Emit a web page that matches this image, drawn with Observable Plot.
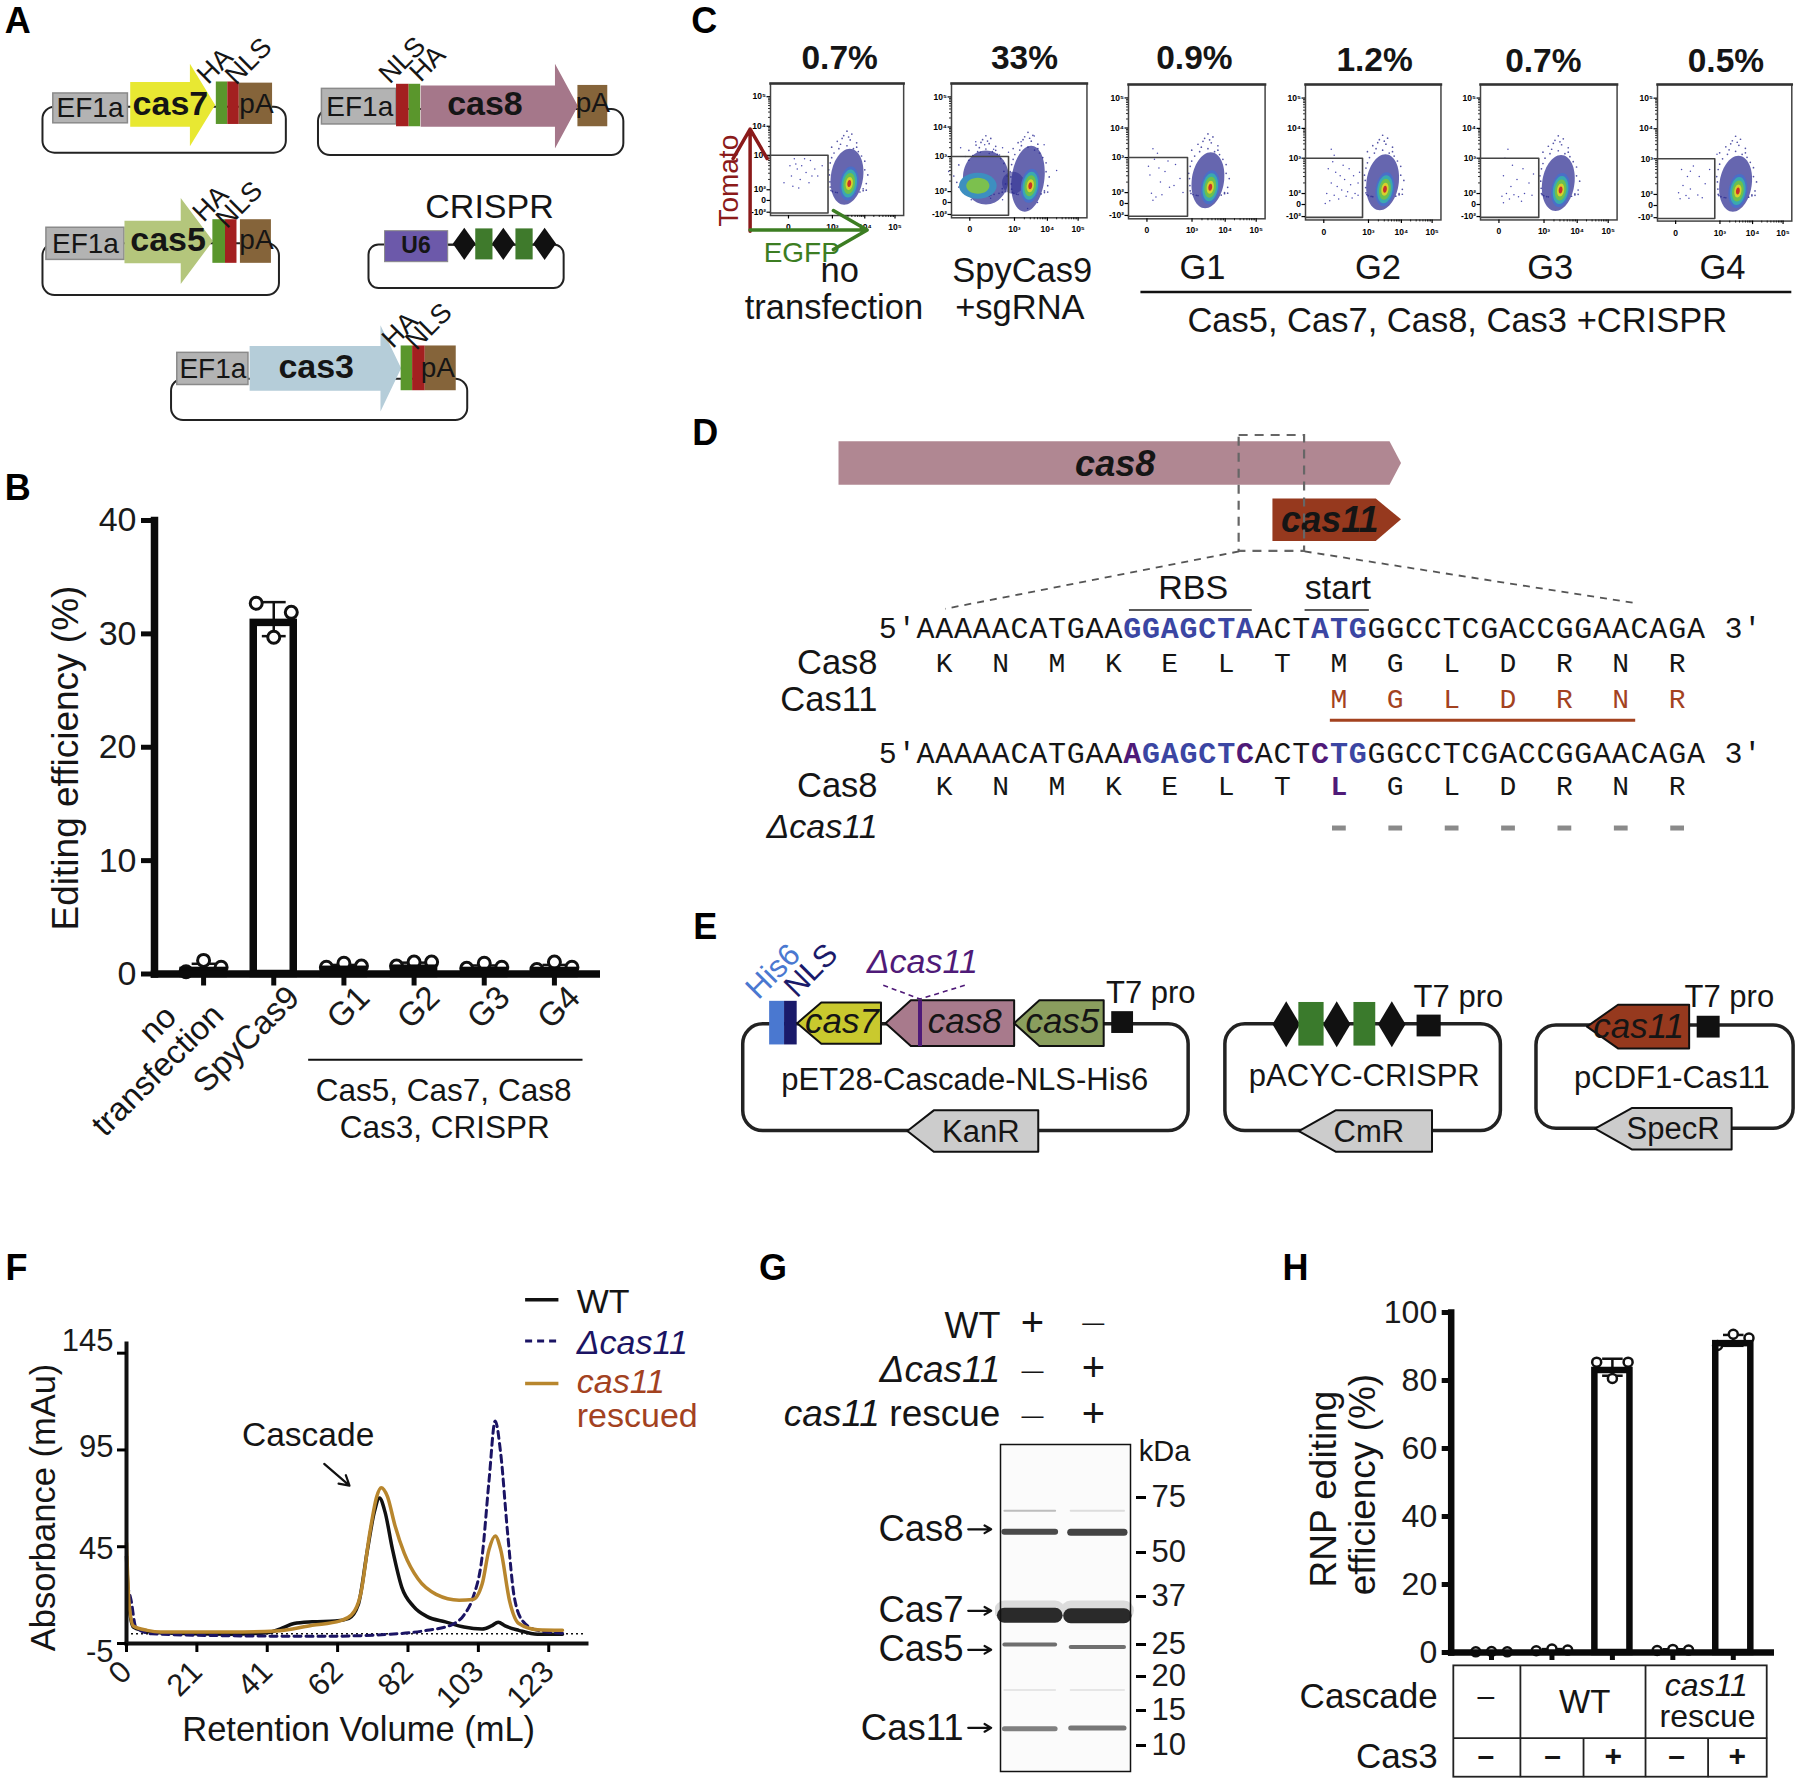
<!DOCTYPE html>
<html><head><meta charset="utf-8">
<script src="https://cdn.jsdelivr.net/npm/d3@7"></script>
<script src="https://cdn.jsdelivr.net/npm/@observablehq/plot@0.6"></script>
<style>html,body{margin:0;padding:0;background:#fff}#page{position:relative;width:1800px;height:1779px;overflow:hidden;background:#fff}</style>
</head><body><div id="page"></div>
<script>
// ---------- Panel B values ----------
const bCategories = ["no transfection","SpyCas9","G1","G2","G3","G4"];
const bTickLabels = ["","SpyCas9","G1","G2","G3","G4"];
const bMeans = [0.6,31.3,0.7,0.8,0.6,0.6];
const bReplicates = [[0.2,1.2,0.6],[32.7,29.7,31.9],[0.6,0.95,0.7],[0.7,1.05,1.05],[0.5,0.95,0.6],[0.4,1.05,0.6]];
const bErrors = [0.3,1.5,0.1,0.2,0.15,0.2];
// ---------- Panel H values ----------
const hMeans = [0.3,0.8,83.9,0.8,91.8];
const hReplicates = [[0.2,0.3,0.2],[0.5,1.0,0.7],[85.4,80.6,85.4],[0.6,0.9,0.7],[90.3,93.6,92.5]];
const hErrors = [0.1,0.2,2.5,0.15,1.6];
// ---------- Panel F values: retention volume (mL), absorbance (mAu) ----------
const fWT = [[0,40],[0.7,15],[2,3.5],[4.7,1.8],[10,0.5],[30,-0.2],[40.8,0.5],[44.8,2.6],[48.8,5.3],[54.1,6.2],[60.8,6.6],[64.8,8],[67.5,15],[70.2,43.5],[72.2,63],[73.7,70.2],[75.3,63],[77.5,43.5],[80.2,24],[83.6,14.2],[87.6,8.9],[92.9,6.2],[98.3,3.5],[103.6,2.5],[106.3,4.1],[108.3,6],[110.3,4.1],[114.3,1.8],[119.7,-0.2],[127,-0.2]];
const fDelta = [[0,25.7],[1.3,17.7],[2.7,3.5],[7.4,0],[30,-1],[56.8,-1.3],[76.9,-0.2],[87.6,1.8],[94.9,4.8],[98.3,9.7],[100.9,18.6],[103.6,40],[105.6,79],[107.4,110],[109,93.3],[111,52.4],[113,18.6],[115.6,6.2],[119.7,1.8],[127,0.3]];
const fRescued = [[0,47],[0.7,16.9],[2,4],[6,1.8],[10,0.9],[30,0.9],[43.5,1.4],[54.1,4.4],[62.2,6.7],[65.5,9.7],[68.2,20.4],[70.9,52.4],[72.9,71],[74.2,75.5],[76,71],[78.2,56],[80.9,41.7],[84.9,28.4],[90.2,20.4],[96.9,17.4],[100.9,17.7],[103.6,25.7],[105.6,43.5],[107.4,50.6],[109,43.5],[111.6,16.9],[114.3,5.3],[119.7,2.1],[127,1.8]];
const fXTicks = [0,20.5,41,61.5,82,102.5,123];
const fXLabels = ["0","21","41","62","82","103","123"];
const fYTicks = [-5,45,95,145];
// ---------- Panel G values ----------
const gMarkers = [75,50,37,25,20,15,10];
const gBands = [
 {kda:69,lane:0,shade:"#bdbdbd",w:2},{kda:69,lane:1,shade:"#dddddd",w:2},
 {kda:59.4,lane:0,shade:"#4a4a4a",w:6},{kda:59.2,lane:1,shade:"#434343",w:7},
 {kda:33.5,lane:0,shade:"#dcdcdc",w:20},{kda:33.5,lane:1,shade:"#dcdcdc",w:20},
 {kda:32.3,lane:0,shade:"#2a2a2a",w:15},{kda:32.2,lane:1,shade:"#2a2a2a",w:15},
 {kda:25,lane:0,shade:"#6e6e6e",w:4},{kda:24.6,lane:1,shade:"#707070",w:4},
 {kda:18,lane:0,shade:"#e6e6e6",w:2},{kda:18,lane:1,shade:"#e6e6e6",w:2},
 {kda:12.4,lane:0,shade:"#808080",w:5},{kda:12.5,lane:1,shade:"#777777",w:5}];
// ---------- Panel C values ----------
const cPercents = ["0.7%","33%","0.9%","1.2%","0.7%","0.5%"];
const cGateRight = [2.7,2.6,2.7,2.6,2.65,2.65];
const cCentres = [[3.52,2.18],[3.48,2.17],[3.55,2.15],[3.5,2.12],[3.5,2.1],[3.55,2.1]];
const cHalo = [[-.5,.9],[-.3,1.1],[-.1,1.3],[.1,1.15],[.3,.9],[.45,.6],[.55,.2],[-.6,.4],[-.65,.05],[-.6,-.3],[.6,-.2],[.5,-.55],[-.45,-.7],[-.3,-.9],[0,-1.1],[.25,-1],[.4,-.8],[-.2,1],[0,.95],[.2,.85],[-.4,.7],[.55,.45],[.65,.05],[-.7,.2],[-.55,-.5],[.1,-1.3],[-.1,-1.4],[0,1.45],[.05,1.25],[-.25,.85],[.35,.75],[-.5,.55],[.5,-.35],[.6,-.45],[-.35,-.85],[.15,-1.15],[.3,1.05],[-.15,1.2],[.15,1.35],[-.62,-.15]];
const cSparse = [
 [[.4,2.9],[.6,2.6],[.2,2.4],[-.1,2.2],[.9,2.7],[1.2,2.5],[.8,2.3],[1.5,2.85],[1.8,2.6],[1.4,2.2],[.1,2.7],[1.1,2.9],[.3,2.1],[2,2.4],[.7,2.05],[1.6,2.4],[2.3,2.7],[.5,2.75]],
 [[-.2,3.3],[.4,3.5],[1,3.4],[1.6,3.25],[2.2,3.3],[2.6,3.15],[3.2,3.5],[3.6,3.7],[3.9,3.4],[.7,3.15],[-.1,3],[1.3,3.1],[2,3.05],[.1,.5],[.6,1],[1.4,.8],[2.2,.5],[3.4,-.5],[3.7,0],[4.3,2.6]],
 [[.4,3.3],[.7,3.15],[.5,2.95],[1.2,2.6],[.2,2.5],[1.9,2.8],[.9,2.3],[1.5,2.15],[.3,1.9],[.6,1.2],[1,1.6],[2.2,2.4],[1.8,2.2],[.1,2.75],[2.4,2],[.8,2.7],[1.4,2.9],[.4,.6]],
 [[.5,3.3],[.7,3.1],[.3,2.7],[.8,2.6],[1.1,2.5],[1.4,2.4],[1.7,2.7],[2,2.5],[2.3,2.3],[.9,2.2],[.5,2.3],[1.2,2.1],[1.6,2.05],[2.1,2],[.2,2],[.7,1.7],[1.5,1.5],[2.3,1.7],[.4,.7],[1,1],[1.9,1.2],[.1,.2],[1.3,2.8],[1.8,2.25],[.6,2.9],[2.4,2.6]],
 [[.6,3.3],[.4,3],[.9,2.8],[.3,2.5],[1.2,2.4],[.8,2.2],[1.6,2.7],[2,2.3],[.5,2],[1,1.8],[1.7,2],[.2,1.5],[1.3,1.4],[2.2,1.7],[.7,1],[2.3,2.55],[.3,.3],[1.5,.6]],
 [[.4,2.7],[.8,2.5],[1.2,2.8],[.5,2.25],[1.6,2.5],[1,2.15],[.2,2.05],[2,2.3],[1.5,1.9],[.7,1.8],[2.3,2.7],[2.8,3.15],[1.8,1.4],[.3,1.2],[1,2.65],[.9,1.3]]];
const cLeftCore = [.54,2.17];
const cLeftCloud = [1.08,2.4];
const cBridge = [2.9,2.25];
const cMinorOffsets = [.3,.48,.6,.7,.78,.85,.9,.95];
// ---------- Panel D sequences ----------
const seqWT = "5'AAAAACATGAAGGAGCTAACTATGGGCCTCGACCGGAACAGA 3'";
const seqMut = "5'AAAAACATGAAAGAGCTCACTCTGGGCCTCGACCGGAACAGA 3'";
const aaCas8 = [..."KNMKELTMGLDRNR"];
const aaCas11 = [..."MGLDRNR"];
const aaMut = [..."KNMKELTLGLDRNR"];

const P = 1800/1568;
const page = document.getElementById("page");
const SANS = "Liberation Sans, Arial, sans-serif";
function place(svg,left,top){svg.style.position="absolute";svg.style.left=left+"px";svg.style.top=top+"px";svg.style.background="transparent";svg.style.fontFamily=SANS;svg.style.maxWidth="none";page.appendChild(svg);return svg;}
const xy = {x:d=>d[0],y:d=>d[1]};

// ---------- bar charts (B, H): the border lies inside the bar's height ----------
function barChart(o){
 const bars = o.means.map((v,i)=>({i,v}));
 const dots = o.reps.flatMap((r,i)=>r.map((v,k)=>({x:i+[-1,0,1][k]*o.spread,v})));
 const errs = o.means.map((v,i)=>({i,lo:v-o.errs[i],hi:v+o.errs[i]}));
 const ticks = o.means.map((_,i)=>i);
 return Plot.plot({width:o.width,height:o.height,marginLeft:o.ml,marginRight:0,marginTop:o.mt,marginBottom:o.mb,
  x:{domain:[-.5,o.means.length-.5],range:o.xr,axis:null},y:{domain:o.yd,axis:null},
  marks:[
   Plot.rect(bars,{x1:d=>d.i-o.hw,x2:d=>d.i+o.hw,y1:()=>0,y2:"v",insetTop:o.sw/2,fill:"white"}),
   Plot.ruleX(errs,{x:"i",y1:"lo",y2:"hi",stroke:"#111",strokeWidth:2.5}),
   Plot.link(errs,{x1:d=>d.i-.17,x2:d=>d.i+.17,y1:"hi",y2:"hi",stroke:"#111",strokeWidth:2.5}),
   Plot.link(errs,{x1:d=>d.i-.17,x2:d=>d.i+.17,y1:"lo",y2:"lo",stroke:"#111",strokeWidth:2.5}),
   Plot.dot(dots,{x:"x",y:"v",r:o.r,fill:"white",stroke:"#111",strokeWidth:o.dsw}),
   Plot.rect(bars,{x1:d=>d.i-o.hw,x2:d=>d.i+o.hw,y1:()=>0,y2:"v",insetTop:o.sw/2,fill:"none",stroke:"#0a0a0a",strokeWidth:o.sw}),
   Plot.frame({anchor:"left",stroke:"#0a0a0a",strokeWidth:o.sw}),
   Plot.frame({anchor:"bottom",stroke:"#0a0a0a",strokeWidth:o.sw}),
   Plot.axisY({ticks:o.yt,tickSize:o.yts,strokeWidth:5,fontSize:o.fs,tickPadding:5,label:null,stroke:"#0a0a0a",fill:"#1a1a1a"}),
   Plot.axisX({ticks,tickSize:o.xts,strokeWidth:5,tickFormat:()=>"",label:null,stroke:"#0a0a0a"}),
   ...(o.xl?[Plot.axisX({ticks,tickSize:0,fontSize:33,tickPadding:o.xpad,tickRotate:-45,dx:20,dy:8,tickFormat:i=>o.xl[i],label:null,fill:"#1a1a1a"})]:[])
  ]});
}
place(barChart({means:bMeans,reps:bReplicates,errs:bErrors,spread:.25,width:600,height:680,ml:154,mt:50,mb:176.5,xr:[168,589],yd:[0,40],yt:[0,10,20,30,40],hw:.285,r:6,dsw:3,sw:7.5,yts:13,xts:12,fs:34,xpad:10,xl:bTickLabels}),0,470);
place(barChart({means:hMeans,reps:hReplicates,errs:hErrors,spread:.26,width:514,height:422,ml:190.7,mt:52,mb:30,xr:[200.8,503],yd:[0,100],yt:[0,20,40,60,80,100],hw:.29,r:4.5,dsw:2.5,sw:6.5,yts:9,xts:8,fs:32,xpad:0,xl:null}),1260,1260);

// ---------- chromatogram F ----------
const fSeries = [[fWT,"#111111",null,3.5],[fDelta,"#1b1464","7,5",3],[fRescued,"#b8862d",null,3.5]];
const fYNudge = [9,2,-3,-12];
place(Plot.plot({width:600,height:460,marginLeft:126,marginRight:14,marginTop:43,marginBottom:117,
 x:{domain:[0,134],axis:null},y:{domain:[-5,150],axis:null},
 marks:[
  Plot.ruleY([0],{stroke:"#111",strokeDasharray:"2,3",strokeWidth:1.5}),
  ...fSeries.map(([d,c,dash,w])=>Plot.line(d,{...xy,stroke:c,strokeWidth:w,strokeDasharray:dash,curve:"monotone-x"})),
  Plot.frame({anchor:"left",stroke:"#111",strokeWidth:4}),
  Plot.frame({anchor:"bottom",stroke:"#111",strokeWidth:4}),
  Plot.axisY({ticks:fYTicks,tickSize:9,strokeWidth:3,tickFormat:()=>"",label:null}),
  ...fYTicks.map((v,i)=>Plot.text([v],{frameAnchor:"left",y:d=>d,text:d=>String(d),dx:-13,dy:fYNudge[i],textAnchor:"end",fontSize:31,fill:"#1a1a1a"})),
  Plot.axisX({ticks:fXTicks,tickSize:9,strokeWidth:3,fontSize:31,tickPadding:14,tickRotate:-45,tickFormat:(d,i)=>fXLabels[i],label:null,fill:"#1a1a1a"})
 ]}),0,1300);

// ---------- gel G: marker ladder positions are spaced as on the gel ----------
const gelKda=[110,75,50,37,25,20,15,10,6];
const gelY=[5,58,113,157,205,237,271,306,332];
const laneX=[[.03,.42],[.54,.95]];
const gelPos=d3.scaleLinear().domain(gelKda).range(gelY);
const gelPlot = Plot.plot({width:225,height:337,marginLeft:5,marginRight:90,marginTop:5,marginBottom:5,
 x:{domain:[0,1],axis:null},y:{domain:[5,332],range:[5,332],axis:null},
 marks:[
  Plot.frame({fill:"#fbfbfb",stroke:"none"}),
  Plot.link(gBands,{x1:d=>laneX[d.lane][0],x2:d=>laneX[d.lane][1],y1:d=>gelPos(d.kda),y2:d=>gelPos(d.kda),stroke:"shade",strokeWidth:"w",strokeLinecap:"round",ariaLabel:"bands"}),
  Plot.frame({stroke:"#111",strokeWidth:1.5}),
  Plot.axisY({anchor:"right",ticks:gMarkers.map(d=>gelPos(d)),tickSize:10,dx:5,tickPadding:6,strokeWidth:3,fontSize:31,label:null,fill:"#1a1a1a",tickFormat:(d,i)=>String(gMarkers[i])})
 ]});
const bandsG = gelPlot.querySelector('[aria-label="bands"]');
if(bandsG) bandsG.style.filter="blur(1.5px)";
place(gelPlot,995,1439);

// ---------- flow plots C ----------
const cFrames=[[671,72,787,187],[828,72,946,189],[983,73,1102,190],[1137,73,1255,191],[1289,73,1408,191],[1443,73,1560,192]];
const xDom=[-.4,0,3,4,5,5.3], xFrac=[0,.135,.465,.708,.935,1];
const yDom=[-1.2,-1,0,2,3,4,5,5.5], yFrac=[1,.975,.886,.805,.544,.324,.10,0];
const xFn=d3.scaleLinear().domain(xDom).range(xFrac), yFn=d3.scaleLinear().domain(yDom).range(yFrac);
const xyC={x:d=>xFn(d[0]),y:d=>yFn(d[1])};
const yTickV=[-1,0,2,3,4,5], yLab=["-10²","0","10²","10³","10⁴","10⁵"];
const xTickV=[0,3,4,5], xLab=["0","10³","10⁴","10⁵"];
const minorX=[3,4].flatMap(k=>cMinorOffsets.map(o=>k+o));
const minorY=[2,3,4].flatMap(k=>cMinorOffsets.map(o=>k+o));
const ell=(a,t=.1)=>({draw(c,s){const r=Math.sqrt(s/Math.PI),k=.5523,w=r*a,h=r,X=(x,y)=>x-t*y;
 c.moveTo(X(w,0),0);c.bezierCurveTo(X(w,k*h),k*h,X(k*w,h),h,X(0,h),h);c.bezierCurveTo(X(-k*w,h),h,X(-w,k*h),k*h,X(-w,0),0);c.bezierCurveTo(X(-w,-k*h),-k*h,X(-k*w,-h),-h,X(0,-h),-h);c.bezierCurveTo(X(k*w,-h),-h,X(w,-k*h),-k*h,X(w,0),0);c.closePath();}});
const coreRings=[["#4a6fc8",17,.55],["#3aa9b0",14,.55],["#6cc04e",10.5,.55],["#d8d02c",6.5,.55],["#c8312a",3.5,.55]];
const blobMark=(d,r,a,fill,o=1,t=.1)=>Plot.dot([d],{...xyC,r,symbol:ell(a,t),fill,fillOpacity:o,ariaLabel:"blob"});
cFrames.forEach((f,i)=>{
 const mL=26,mR=8,mT=4,mB=24,w=(f[2]-f[0])*P,h=(f[3]-f[1])*P;
 const c=cCentres[i],cloud=[c[0]-.07,c[1]+.2];
 const halo=cHalo.map(d=>[cloud[0]+d[0],cloud[1]+d[1]]);
 const extra=i===1?cHalo.map(d=>[cLeftCloud[0]+d[0]*2.2,cLeftCloud[1]+d[1]*.9]):[];
 const plot=Plot.plot({width:w+mL+mR,height:h+mT+mB,marginLeft:mL,marginRight:mR,marginTop:mT,marginBottom:mB,
  x:{domain:[0,1],range:[mL,mL+w],axis:null},y:{domain:[0,1],range:[mT,mT+h],axis:null},
  marks:[
   Plot.dot(cSparse[i],{...xyC,r:.75,fill:"#4a4ab0"}),
   Plot.dot(halo.concat(extra),{...xyC,r:.85,fill:"#2b2b90",fillOpacity:.8}),
   ...(i===1?[blobMark(cLeftCloud,27,.85,"#2b2b90",.72,0),blobMark(cBridge,11,1,"#2b2b90",.55,0),blobMark(cLeftCore,13,1.45,"#3d8fc0",1,0),blobMark(cLeftCore,8,1.45,"#7cc04e",1,0)]:[]),
   blobMark(cloud,i===1?33:28,i===1?.5:.58,"#2b2b90",.72),
   ...coreRings.map(([k,r,a])=>blobMark(c,r,a,k)),
   Plot.line([[-.4,3],[cGateRight[i],3],[cGateRight[i],-1.05],[-.4,-1.05]],{...xyC,stroke:"#444",strokeWidth:1.6,curve:"linear"}),
   Plot.frame({stroke:"#444",strokeWidth:1.5}),
   Plot.frame({anchor:"top",stroke:"#333",strokeWidth:2.5}),
   Plot.axisY({ticks:minorY.map(d=>yFn(d)),tickSize:2,strokeWidth:.8,tickFormat:()=>"",label:null}),
   Plot.axisX({ticks:minorX.map(d=>xFn(d)),tickSize:2,strokeWidth:.8,tickFormat:()=>"",label:null}),
   Plot.axisY({ticks:yTickV.map(d=>yFn(d)),tickSize:3.5,tickPadding:1,strokeWidth:1.2,fontSize:8.5,fontWeight:"bold",tickFormat:(d,k)=>yLab[k],label:null}),
   Plot.axisX({ticks:xTickV.map(d=>xFn(d)),tickSize:3.5,tickPadding:5,strokeWidth:1.2,fontSize:8.5,fontWeight:"bold",tickFormat:(d,k)=>xLab[k],label:null})
  ]});
 plot.querySelectorAll('[aria-label="blob"]').forEach(g=>g.style.filter="blur(.7px)");
 place(plot,f[0]*P-mL,f[1]*P-mT);
});

// ---------- schematic layer (panels A, C–E, labels) in reference-picture units ----------
const m=[];
const T=(x,y,t,size,o={})=>m.push(Plot.text([{x,y,t}],{x:"x",y:"y",text:"t",fontSize:size,fill:"#151515",fontFamily:SANS,...o}));
const box=(x1,y1,x2,y2,fill,stroke="none",sw=1,rx=0)=>m.push(Plot.rect([{x1,x2,y1,y2}],{x1:"x1",x2:"x2",y1:"y1",y2:"y2",fill,stroke,strokeWidth:sw,rx}));
const poly=(pts,fill,stroke="none",sw=1)=>m.push(Plot.line(pts,{...xy,curve:"linear-closed",fill,stroke,strokeWidth:sw}));
const ln=(x1,y1,x2,y2,stroke="#111",sw=2,dash=null)=>m.push(Plot.link([{x1,y1,x2,y2}],{x1:"x1",x2:"x2",y1:"y1",y2:"y2",stroke,strokeWidth:sw,strokeDasharray:dash}));
const arr=(x1,y1,x2,y2,stroke="#111",sw=2,hl=11)=>m.push(Plot.arrow([{x1,y1,x2,y2}],{x1:"x1",x2:"x2",y1:"y1",y2:"y2",stroke,strokeWidth:sw,headLength:hl}));
const dia=(cx,cy,rx,ry,fill="#111")=>poly([[cx-rx,cy],[cx,cy-ry],[cx+rx,cy],[cx,cy+ry]],fill);
const geneR=(x0,xn,tip,y0,y1,h0,h1,fill)=>poly([[x0,y0],[xn,y0],[xn,h0],[tip,(h0+h1)/2],[xn,h1],[xn,y1],[x0,y1]],fill);
const geneL=(tip,xn,x1,y0,y1,fill,stroke="#111",sw=2)=>poly([[tip,(y0+y1)/2],[xn,y0],[x1,y0],[x1,y1],[xn,y1]],fill,stroke,sw);

// panel letters
[["A",15,18],["B",15,425],["C",613,18],["D",614,377],["E",614,808],["F",14,1105],["G",673,1105],["H",1128,1105]].forEach(([t,x,y])=>T(x,y,t,36,{fontWeight:"bold",fill:"#000"}));

// panel A
const GREY="#b3b3b3",GREEN="#5a962c",RED="#a32020",BROWN="#85643a";
const ef=(x1,y1,x2,y2,tx)=>{box(x1,y1,x2,y2,GREY,"#8a8a8a",1.5);T(tx,(y1+y2)/2,"EF1a",28);};
const pA=(x,y)=>T(x,y,"pA",28);
const rot={rotate:-45};
const GENE=34;
box(37,93,249,133,"none","#222",2,12);
ef(46,81,111,107,78);
geneR(113,165,187,71,110,55,127,"#e8e832");T(148,90,"cas7",GENE,{fontWeight:"bold"});
box(188,71,198,108,GREEN);box(198,71,208,108,RED);box(208,72,237,108,BROWN);pA(223,90);
T(187,57,"HA",27,rot);T(216,53,"NLS",27,rot);

box(277,95,543,135,"none","#222",2,12);
ef(280,77,345,108,313);
box(345,73,356,110,RED);box(356,73,366,110,GREEN);
geneR(366,483,503,74,110,55,129,"#a5778a");T(422,90,"cas8",GENE,{fontWeight:"bold"});
box(503,74,529,110,BROWN);pA(516,89);
T(350,52,"NLS",27,rot);T(372,55,"HA",27,rot);

box(37,212,243,257,"none","#222",2,12);
ef(40,198,108,226,74);
geneR(108,157,185,192,229,172,247,"#b4c67c");T(146,209,"cas5",GENE,{fontWeight:"bold"});
box(185,191,196,229,GREEN);box(196,191,206,229,RED);box(209,191,236,229,BROWN);pA(223,209);
T(183,177,"HA",27,rot);T(208,178,"NLS",27,rot);

box(321,213,491,251,"none","#222",2,10);
box(335,201,390,228,"#6c59aa","#888",1);T(362,214,"U6",23,{fontWeight:"bold"});
ln(390,213,474,213,"#222",1.5);
[404,438,474].forEach(x=>dia(x,212,10,14));
box(414,199,429,226,"#3f7a2c");box(449,199,464,226,"#3f7a2c");
T(426,180,"CRISPR",34);

box(149,330,407,366,"none","#222",2,12);
ef(154,307,216,335,185);
geneR(217,331,349,301,340,283,358,"#b5cdd9");T(275,319,"cas3",GENE,{fontWeight:"bold"});
box(349,301,359,340,GREEN);box(359,301,370,340,RED);box(370,301,397,340,BROWN);pA(381,320);
T(348,287,"HA",27,rot);T(373,284,"NLS",27,rot);

// panel B text
T(137,892,"no",33,rot);T(137,932,"transfection",33,rot);
ln(268,923,507,923,"#111",2);
T(386,950,"Cas5, Cas7, Cas8",31.5);T(387,982,"Cas3, CRISPR",31.5);
T(57,660,"Editing efficiency (%)",37,{rotate:-90});

// panel C text
[[731,50],[892,50],[1040,50],[1197,52],[1344,53],[1503,53]].forEach(([x,y],i)=>T(x,y,cPercents[i],33.5,{fontWeight:"bold"}));
arr(653,201,653,112,"#8b1a1a",3.5,20);arr(653,200,755,200,"#3c7d22",3.5,20);
T(635,157,"Tomato",28,{rotate:-90,fill:"#8b1a1a"});T(698,220,"EGFP",28,{fill:"#3c7d22"});
T(731,236,"no",34.5);T(726,268,"transfection",34.5);T(890,236,"SpyCas9",34.5);T(888,268,"+sgRNA",34.5);
[["G1",1047],["G2",1200],["G3",1350],["G4",1500]].forEach(([t,x])=>T(x,233,t,34.5));
ln(993,254,1560,254,"#111",2.5);
T(1269,279,"Cas5, Cas7, Cas8, Cas3 +CRISPR",34.5);

// panel D
const CAS8="#b08792",CAS11="#96391e",SEQBLUE="#3b46a3",SEQPUR="#4f1a78";
poly([[730,384],[1210,384],[1220,403],[1210,422],[730,422]],CAS8);
T(971,404,"cas8",36,{fontWeight:"bold",fontStyle:"italic"});
poly([[1108,434],[1198,434],[1220,452],[1198,471],[1108,471]],CAS11);
T(1158,453,"cas11",36,{fontWeight:"bold",fontStyle:"italic"});
m.push(Plot.rect([{x1:1079,x2:1136,y1:379,y2:480}],{x1:"x1",x2:"x2",y1:"y1",y2:"y2",fill:"none",stroke:"#666",strokeWidth:2.2,strokeDasharray:"9,7"}));
ln(1079,480,823,530,"#555",1.8,"7,6");ln(1136,480,1424,525,"#555",1.8,"7,6");
T(1039,512,"RBS",34);ln(983,531,1090,531,"#222",1.5);
T(1165,512,"start",34);ln(1136,531,1192,531,"#222",1.5);
const MONO="Liberation Mono, monospace";
const cx=i=>773+i*16.37;
const seqRow=(seq,y,colour)=>{
 const chars=[...seq].map((c,i)=>({x:cx(i),y,c,col:colour(i)}));
 m.push(Plot.text(chars.filter(d=>!d.col),{x:"x",y:"y",text:"c",fontSize:30,fontFamily:MONO,fill:"#151515"}));
 m.push(Plot.text(chars.filter(d=>d.col),{x:"x",y:"y",text:"c",fontSize:30,fontFamily:MONO,fontWeight:"bold",fill:"col"}));
};
seqRow(seqWT,547,i=>(i>=13&&i<=19)||(i>=23&&i<=25)?SEQBLUE:null);
seqRow(seqMut,656,i=>[13,19,23].includes(i)?SEQPUR:(i>=14&&i<=18)||i==24||i==25?SEQBLUE:null);
const aaRow=(aa,y,start,fill,boldIdx=-1)=>{
 const d=aa.map((c,k)=>({x:cx(start+3*k),y,c,k}));
 m.push(Plot.text(d.filter(e=>e.k!==boldIdx),{x:"x",y:"y",text:"c",fontSize:28,fontFamily:MONO,fill}));
 if(boldIdx>=0) m.push(Plot.text(d.filter(e=>e.k===boldIdx),{x:"x",y:"y",text:"c",fontSize:28,fontFamily:MONO,fontWeight:"bold",fill:SEQPUR}));
};
aaRow(aaCas8,577,3,"#151515");aaRow(aaCas11,609,24,"#a3421f");aaRow(aaMut,684,3,"#151515",7);
ln(1158,627,1424,627,"#a3421f",3);
m.push(Plot.link(aaCas11.map((_,k)=>({x:cx(24+3*k)})),{x1:d=>d.x-6,x2:d=>d.x+6,y1:()=>721,y2:()=>721,stroke:"#8a8a8a",strokeWidth:5}));
const rightLbl={textAnchor:"end"};
T(764,577,"Cas8",34.5,rightLbl);T(764,609,"Cas11",34.5,rightLbl);T(764,684,"Cas8",34.5,rightLbl);T(764,720,"Δcas11",34,{...rightLbl,fontStyle:"italic"});

// panel E
const it={fontStyle:"italic"};
box(647,892,1035,985,"none","#222",3.5,20);
box(670,872,683,910,"#4a78d0");box(683,872,694,910,"#1a1a6a");
geneL(694,715,767,873,909,"#c9c92e");T(733,890,"cas7",35,it);
geneL(771,793,883,871,911,"#a87a8c");ln(801,871,801,911,SEQPUR,4);T(840,890,"cas8",35,it);
geneL(883,905,961,871,911,"#8a9e5e");T(925,890,"cas5",35,it);
box(968,881,987,900,"#111");T(1002,865,"T7 pro",31);
T(673,846,"His6",31,{rotate:-45,fill:"#4a78d0"});T(706,845,"NLS",31,{rotate:-45,fill:"#1a1a6a"});
T(803,838,"Δcas11",34,{fontStyle:"italic",fill:SEQPUR});
ln(769,858,801,870,SEQPUR,1.6,"5,4");ln(840,858,801,870,SEQPUR,1.6,"5,4");
T(840,941,"pET28-Cascade-NLS-His6",31);
geneL(790,813,904,967,1003,"#cccccc");T(854,986,"KanR",31);

box(1067,892,1307,985,"none","#222",3.5,20);
[1120,1164,1212].forEach(x=>dia(x,892,12,20));
box(1131,873,1153,911,"#3a7a2c");box(1179,873,1198,911,"#3a7a2c");
box(1234,884,1255,903,"#111");T(1270,868,"T7 pro",31);
T(1188,937,"pACYC-CRISPR",31);
geneL(1131,1163,1247,967,1003,"#cccccc");T(1192,986,"CmR",31);

box(1338,893,1562,983,"none","#222",3.5,20);
geneL(1382,1409,1471,875,913,CAS11);T(1427,894,"cas11",35,it);
box(1478,885,1498,904,"#111");T(1506,868,"T7 pro",31);
T(1456,939,"pCDF1-Cas11",31);
geneL(1389,1421,1508,965,1001,"#cccccc");T(1457,983,"SpecR",31);

// panel F text
T(38,1313,"Absorbance (mAu)",34.5,{rotate:-90});
T(312,1507,"Retention Volume (mL)",34.5);
T(268,1250,"Cascade",33.5);arr(282,1275,304,1294,"#111",2.2,11);
ln(457,1132,486,1132,"#111",3.5);ln(457,1168,486,1168,"#1b1464",3,"7,5");ln(457,1205,486,1205,"#b8862d",3.5);
const left={textAnchor:"start"};
T(502,1134,"WT",34,left);T(502,1170,"Δcas11",34,{...left,fontStyle:"italic",fill:"#1b1464"});
T(502,1204,"cas11",34,{...left,fontStyle:"italic",fill:"#a3421f"});T(502,1233,"rescued",34,{...left,fill:"#a3421f"});

// panel G text
T(871,1155,"WT",36,rightLbl);T(871,1193,"Δcas11",37,{...rightLbl,fontStyle:"italic"});
T(871,1232,"rescue",37,rightLbl);T(766,1232,"cas11",37,{...rightLbl,fontStyle:"italic"});
[[899,1152,"+"],[952,1152,"—"],[899,1194,"—"],[952,1192,"+"],[899,1233,"—"],[952,1232,"+"]].forEach(([x,y,t])=>T(x,y,t,t==="+"?40:22));
[["Cas8",1332],["Cas7",1403],["Cas5",1437],["Cas11",1505]].forEach(([t,y])=>{T(839,y,t,36.5,rightLbl);arr(843,y,863,y,"#111",2.2,9);});
T(1014,1264,"kDa",29);

// panel H text
T(1153,1297,"RNP editing",37,{rotate:-90});T(1187,1293,"efficiency (%)",37,{rotate:-90});
box(1266,1451,1539,1548,"none","#222",1.8);
ln(1266,1514,1539,1514,"#222",1.8);
ln(1324,1451,1324,1548,"#222",1.8);ln(1433,1451,1433,1548,"#222",1.8);
ln(1379,1514,1379,1548,"#222",1.8);ln(1487.5,1514,1487.5,1548,"#222",1.8);
T(1252,1478,"Cascade",35,rightLbl);T(1252,1530,"Cas3",35,rightLbl);
T(1294,1478,"–",30);T(1380,1483,"WT",33);T(1486,1468,"cas11",32,it);T(1487,1495,"rescue",32);
[[1294,"–"],[1352,"–"],[1405,"+"],[1460,"–"],[1513,"+"]].forEach(([x,t])=>T(x,1530,t,30,{fontWeight:"bold"}));

const canvas=Plot.plot({width:1800,height:1779,margin:0,x:{domain:[0,1568],range:[0,1800],axis:null},y:{domain:[0,1550],range:[0,1779],axis:null},marks:m});
place(canvas,0,0);canvas.style.pointerEvents="none";
</script></body></html>
